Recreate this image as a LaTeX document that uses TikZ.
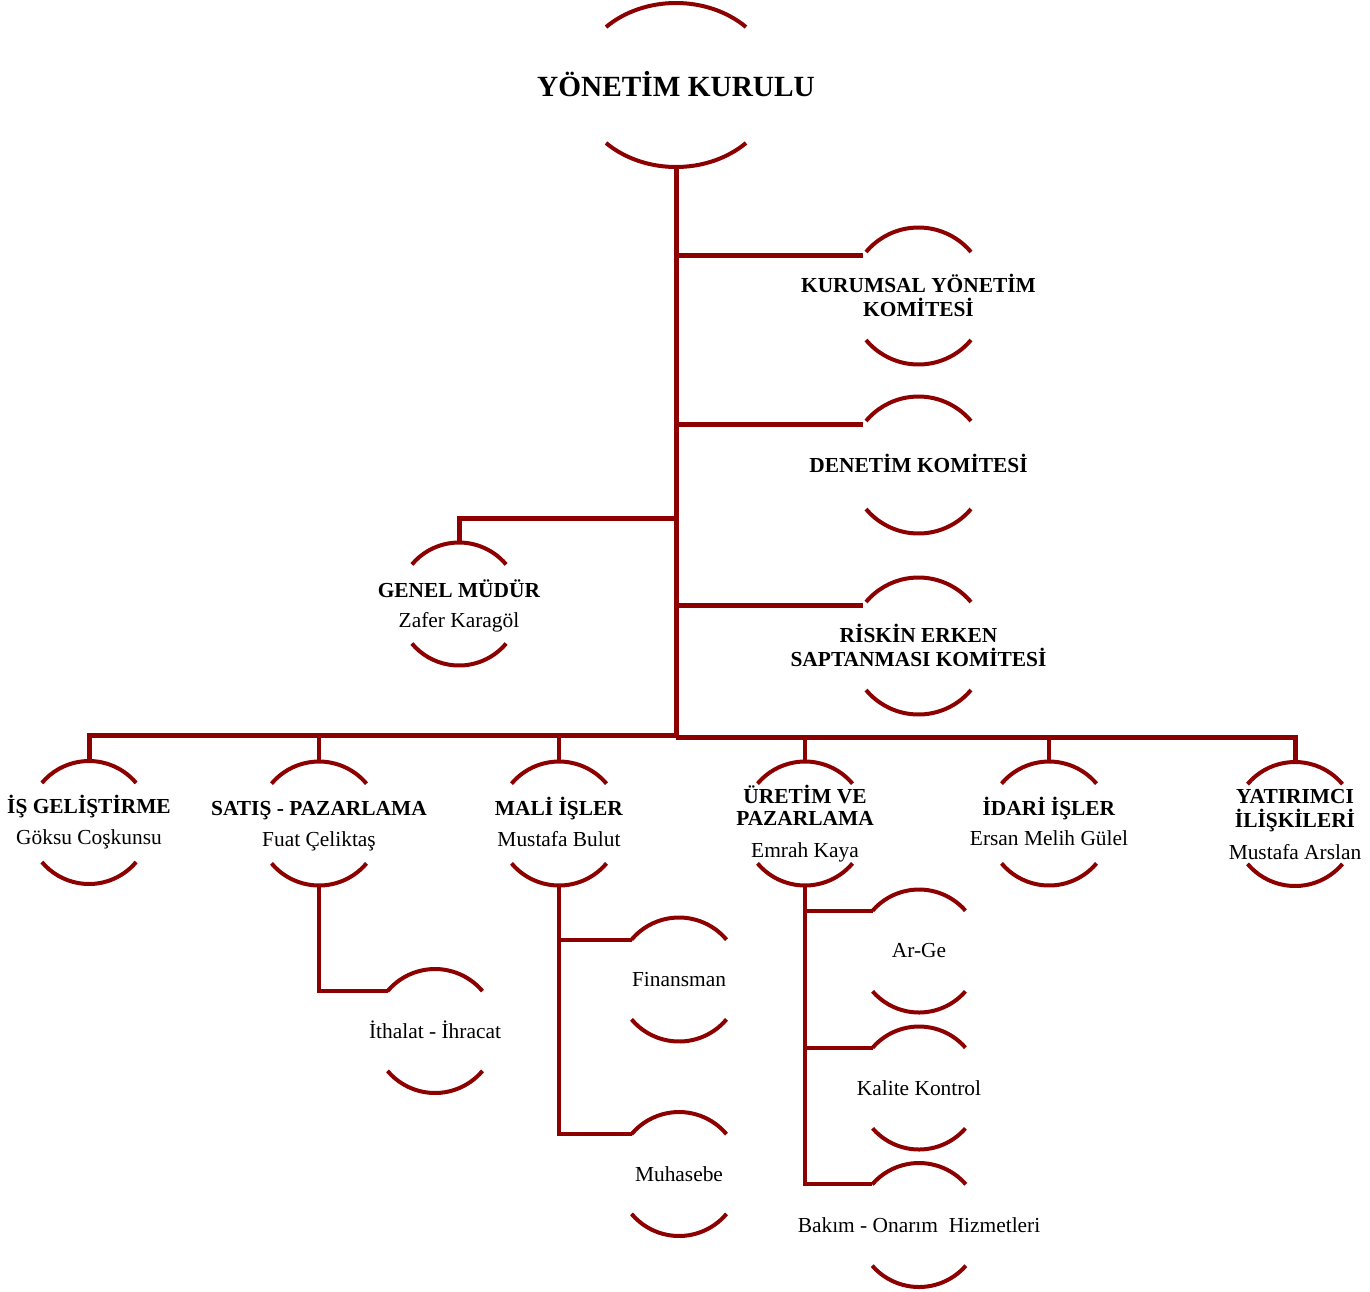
\documentclass[tikz,border=0pt]{standalone}
\usepackage{fontspec}
\setmainfont{Liberation Serif}
\usetikzlibrary{shapes.geometric}
\definecolor{dred}{RGB}{140,0,0}
\newcommand\orgring[5]{% name, x, y, radius, angle
  \node[ringshape, minimum size={2*#4pt}] (#1) at (#2,#3) {};
  \draw[arcline] (#1.center) ++(#5:#4pt) arc[start angle=#5, end angle={180-#5}, radius=#4pt];
  \draw[arcline] (#1.center) ++(-#5:#4pt) arc[start angle=-#5, end angle={-180+#5}, radius=#4pt];
}
\newcommand\lines[1]{\begin{tabular}[t]{@{}c@{}}#1\end{tabular}}
\begin{document}
\begin{tikzpicture}[x=1pt,y=1pt,
  ringshape/.style={circle, draw=none, inner sep=0pt, outer sep=0pt},
  arcline/.style={draw=dred, line width=4pt},
  mainline/.style={draw=dred, line width=5pt},
  subline/.style={draw=dred, line width=4.2pt},
  lbl/.style={font=\fontsize{21.4}{22}\selectfont, inner sep=0pt, anchor=base, text=black},
  title/.style={font=\fontsize{29.3}{30}\selectfont\bfseries, inner sep=0pt, anchor=base, text=black}]
\useasboundingbox (0,0) rectangle (1370,-1291);

% top node (ellipse)
\node[ellipse, draw=none, inner sep=0pt, outer sep=0pt, minimum width=198pt, minimum height=164pt] (yk) at (676,-85) {};
\draw[arcline] (yk.center) ++(45:99pt and 82pt) arc[start angle=45, end angle=135, x radius=99pt, y radius=82pt];
\draw[arcline] (yk.center) ++(-45:99pt and 82pt) arc[start angle=-45, end angle=-135, x radius=99pt, y radius=82pt];
\node[title] (yk-t) at (676,-96) {YÖNETİM KURULU};

% committees
\orgring{ku}{918.5}{-296}{68.5}{40}
\orgring{dn}{918.5}{-465}{68.5}{40}
\orgring{rs}{918.5}{-646}{68.5}{40}
\node[lbl] (ku-t) at (918.5,-292) {\lines{\textbf{KURUMSAL YÖNETİM}\\\textbf{KOMİTESİ}}};
\node[lbl] (dn-t) at (918.5,-472) {\textbf{DENETİM KOMİTESİ}};
\node[lbl] (rs-t) at (918.5,-642) {\lines{\textbf{RİSKİN ERKEN}\\\textbf{SAPTANMASI KOMİTESİ}}};

% general manager
\orgring{gm}{459}{-604}{61.5}{40}
\node[lbl] (gm-t) at (459,-597) {\lines{\textbf{GENEL MÜDÜR}\\[8pt]Zafer Karagöl}};

% bottom row
\orgring{ig}{89}{-822.5}{61.5}{40}
\orgring{sp}{319}{-823.5}{62}{40}
\orgring{ml}{559}{-823.5}{62}{40}
\orgring{ur}{805}{-823.5}{62}{40}
\orgring{id}{1049}{-823.5}{62}{40}
\orgring{yi}{1295}{-824}{62}{40}
\node[lbl] (ig-t) at (89,-813) {\lines{\textbf{İŞ GELİŞTİRME}\\[9pt]Göksu Coşkunsu}};
\node[lbl] (sp-t) at (319,-815) {\lines{\textbf{SATIŞ - PAZARLAMA}\\[9pt]Fuat Çeliktaş}};
\node[lbl] (ml-t) at (559,-815) {\lines{\textbf{MALİ İŞLER}\\[9pt]Mustafa Bulut}};
\node[lbl] (ur-t) at (805,-803) {\lines{\textbf{ÜRETİM VE}\\\textbf{PAZARLAMA}\\[10pt]Emrah Kaya}};
\node[lbl] (id-t) at (1049,-815) {\lines{\textbf{İDARİ İŞLER}\\[8pt]Ersan Melih Gülel}};
\node[lbl] (yi-t) at (1295,-803) {\lines{\textbf{YATIRIMCI}\\\textbf{İLİŞKİLERİ}\\[10pt]Mustafa Arslan}};

% sub units
\orgring{it}{435}{-1031}{62}{40}
\orgring{fn}{679}{-979.5}{62}{40}
\orgring{mh}{679}{-1174}{62}{40}
\orgring{ag}{919}{-951}{61.5}{41}
\orgring{kk}{919}{-1088}{61.5}{41}
\orgring{bk}{919}{-1225}{62}{41}
\node[lbl] (it-t) at (435,-1038) {İthalat - İhracat};
\node[lbl] (fn-t) at (679,-986) {Finansman};
\node[lbl] (mh-t) at (679,-1181) {Muhasebe};
\node[lbl] (ag-t) at (919,-957) {Ar-Ge};
\node[lbl] (kk-t) at (919,-1095) {Kalite Kontrol};
\node[lbl] (bk-t) at (919,-1232) {Bakım - Onarım\ \ Hizmetleri};

% trunk and junctions
\coordinate (busL) at (676,-735.5);
\coordinate (busR) at (676,-737.5);
\coordinate (gmJ) at (676,-518);
\draw[mainline] (yk.south) -- (676,-737.5) coordinate (trunkEnd);
\draw[mainline] (ku.144) -- (ku.144 -| yk.south);
\draw[mainline] (dn.144) -- (dn.144 -| yk.south);
\draw[mainline] (rs.144) -- (rs.144 -| yk.south);
\draw[mainline] (gm.north) |- (gmJ);

% bus
\draw[mainline] (ig.north) |- (busL);
\draw[mainline] (yi.north) |- (busR);
\draw[subline] (sp.north) -- (sp.north |- busL);
\draw[subline] (ml.north) -- (ml.north |- busL);
\draw[subline] (ur.north) -- (ur.north |- busR);
\draw[subline] (id.north) -- (id.north |- busR);

% sub connectors
\draw[subline] (sp.south) |- (it.140);
\draw[subline] (ml.south) |- (fn.140);
\draw[subline] (ml.south) |- (mh.140);
\draw[subline] (ur.south) |- (ag.139);
\draw[subline] (ur.south) |- (kk.139);
\draw[subline] (ur.south) |- (bk.139);
\end{tikzpicture}
\end{document}
